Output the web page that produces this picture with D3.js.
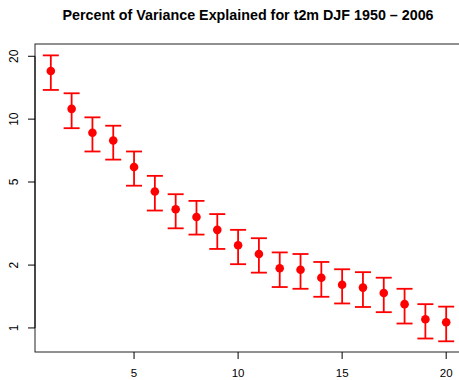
<!DOCTYPE html>
<html>
<head>
<meta charset="utf-8">
<script src="https://cdn.jsdelivr.net/npm/d3@7"></script>
<style>
  body { margin: 0; background: #fff; }
  text { font-family: "Liberation Sans", Arial, sans-serif; }
</style>
</head>
<body>
<div id="chart"></div>
<script>
// mode number (1..20) and percent of variance with error bounds
const modes = d3.range(1, 21);
const pct   = [17.0, 11.2, 8.6, 7.9, 5.9, 4.5, 3.7, 3.4, 2.95, 2.49, 2.26, 1.93, 1.90, 1.74, 1.61, 1.56, 1.47, 1.30, 1.10, 1.065];
const upper = [20.2, 13.3, 10.2, 9.3, 7.0, 5.35, 4.37, 4.06, 3.51, 2.95, 2.69, 2.30, 2.26, 2.07, 1.91, 1.85, 1.74, 1.54, 1.30, 1.265];
const lower = [13.8, 9.05, 7.0, 6.4, 4.8, 3.65, 3.0, 2.8, 2.39, 2.02, 1.84, 1.57, 1.54, 1.41, 1.31, 1.26, 1.19, 1.05, 0.89, 0.863];
const xTicks = [5, 10, 15, 20];
const yTicks = [1, 2, 5, 10, 20];

const W = 459, H = 380;
const m = { left: 35, right: 462, top: 44, bottom: 352 };

const svg = d3.select("#chart").append("svg")
  .attr("width", W).attr("height", H);

const x = d3.scaleLinear().domain([1 - 0.76, 20 + 0.76]).range([m.left, m.right]);
const y = d3.scaleLog().domain([0.767, 22.9]).range([m.bottom, m.top]);

const red = "#ff0000";

// title
svg.append("text")
  .attr("x", 248).attr("y", 20)
  .attr("text-anchor", "middle")
  .style("font-weight", "bold").style("font-size", "14.3px")
  .text("Percent of Variance Explained for t2m DJF 1950 \u2013 2006");

// box
svg.append("rect")
  .attr("x", m.left).attr("y", m.top)
  .attr("width", m.right - m.left).attr("height", m.bottom - m.top)
  .attr("fill", "none").attr("stroke", "#222").attr("stroke-width", 1);

// x axis
const xAxis = svg.append("g");
xAxis.selectAll("line").data(xTicks).join("line")
  .attr("x1", d => x(d)).attr("x2", d => x(d))
  .attr("y1", m.bottom).attr("y2", m.bottom + 7)
  .attr("stroke", "#000");
xAxis.selectAll("text").data(xTicks).join("text")
  .attr("x", d => x(d)).attr("y", 377)
  .attr("text-anchor", "middle").style("font-size", "11.5px")
  .text(d => d);

// y axis
const yAxis = svg.append("g");
yAxis.append("line")
  .attr("x1", m.left).attr("x2", m.left)
  .attr("y1", y(1)).attr("y2", y(20)).attr("stroke", "#000");
yAxis.selectAll("line.tick").data(yTicks).join("line")
  .attr("class", "tick")
  .attr("x1", m.left - 7).attr("x2", m.left)
  .attr("y1", d => y(d)).attr("y2", d => y(d))
  .attr("stroke", "#000");
yAxis.selectAll("text").data(yTicks).join("text")
  .attr("transform", d => `translate(18,${y(d)}) rotate(-90)`)
  .attr("text-anchor", "middle").style("font-size", "12px")
  .text(d => d);

// error bars
const bars = svg.append("g")
  .attr("stroke", red).attr("stroke-width", 1.8);
bars.selectAll("line.v").data(modes).join("line")
  .attr("class", "v")
  .attr("x1", d => x(d)).attr("x2", d => x(d))
  .attr("y1", (d, i) => y(upper[i])).attr("y2", (d, i) => y(lower[i]));
bars.selectAll("line.u").data(modes).join("line")
  .attr("class", "u")
  .attr("x1", d => x(d) - 8).attr("x2", d => x(d) + 8)
  .attr("y1", (d, i) => y(upper[i])).attr("y2", (d, i) => y(upper[i]));
bars.selectAll("line.l").data(modes).join("line")
  .attr("class", "l")
  .attr("x1", d => x(d) - 8).attr("x2", d => x(d) + 8)
  .attr("y1", (d, i) => y(lower[i])).attr("y2", (d, i) => y(lower[i]));

// points
svg.append("g").selectAll("circle").data(modes).join("circle")
  .attr("cx", d => x(d)).attr("cy", (d, i) => y(pct[i]))
  .attr("r", 4.3).attr("fill", red);
</script>
</body>
</html>
